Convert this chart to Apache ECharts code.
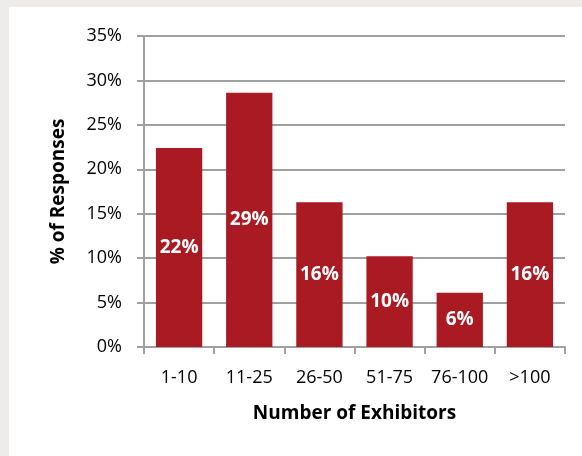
<!DOCTYPE html>
<html>
<head>
<meta charset="utf-8">
<script src="https://cdn.jsdelivr.net/npm/echarts@6/dist/echarts.min.js"></script>
<style>
  html, body { margin: 0; padding: 0; background: #edecea; }
  #chart { position: absolute; left: 9px; top: 7px; width: 573px; height: 449px; background: #ffffff; }
</style>
</head>
<body>
<div id="chart"></div>
<script>
// exhibitor count buckets
var categories = ['1-10', '11-25', '26-50', '51-75', '76-100', '>100'];
// share of responses, percent
var responses = [22.4, 28.6, 16.3, 10.2, 6.1, 16.3];
var yTicks = [0, 5, 10, 15, 20, 25, 30, 35];

var chart = echarts.init(document.getElementById('chart'));
var fontName = 'Open Sans';

chart.setOption({
  animation: false,
  grid: { left: 135, right: 17, top: 29, bottom: 109 },
  xAxis: {
    type: 'category',
    data: categories,
    name: 'Number of Exhibitors',
    nameLocation: 'middle',
    nameGap: 57,
    nameTextStyle: { fontFamily: fontName, fontWeight: 'bold', fontSize: 19, color: '#000', verticalAlign: 'top' },
    axisLine: { lineStyle: { color: '#a0a0a0', width: 2 } },
    axisTick: { show: true, length: 7, alignWithLabel: false, lineStyle: { color: '#a0a0a0', width: 2 } },
    axisLabel: { fontFamily: fontName, fontSize: 18, color: '#000', margin: 22, interval: 0, hideOverlap: false }
  },
  yAxis: {
    type: 'value',
    min: yTicks[0],
    max: yTicks[yTicks.length - 1],
    interval: 5,
    name: '% of Responses',
    nameLocation: 'middle',
    nameGap: 76,
    nameTextStyle: { fontFamily: fontName, fontWeight: 'bold', fontSize: 19, color: '#000' },
    axisLine: { show: true, lineStyle: { color: '#a0a0a0', width: 2 } },
    axisTick: { show: true, length: 7, inside: false, lineStyle: { color: '#a0a0a0', width: 2 } },
    splitLine: { show: true, lineStyle: { color: '#a0a0a0', width: 2 } },
    axisLabel: { fontFamily: fontName, fontSize: 18, color: '#000', margin: 22, formatter: '{value}%' }
  },
  series: [{
    type: 'bar',
    data: responses,
    barCategoryGap: '34%',
    itemStyle: { color: '#aa1a22' },
    label: {
      show: true,
      position: 'inside',
      fontFamily: fontName,
      fontWeight: 'bold',
      fontSize: 19,
      color: '#fff',
      formatter: function (p) { return Math.round(p.value) + '%'; }
    }
  }]
});
</script>
</body>
</html>
